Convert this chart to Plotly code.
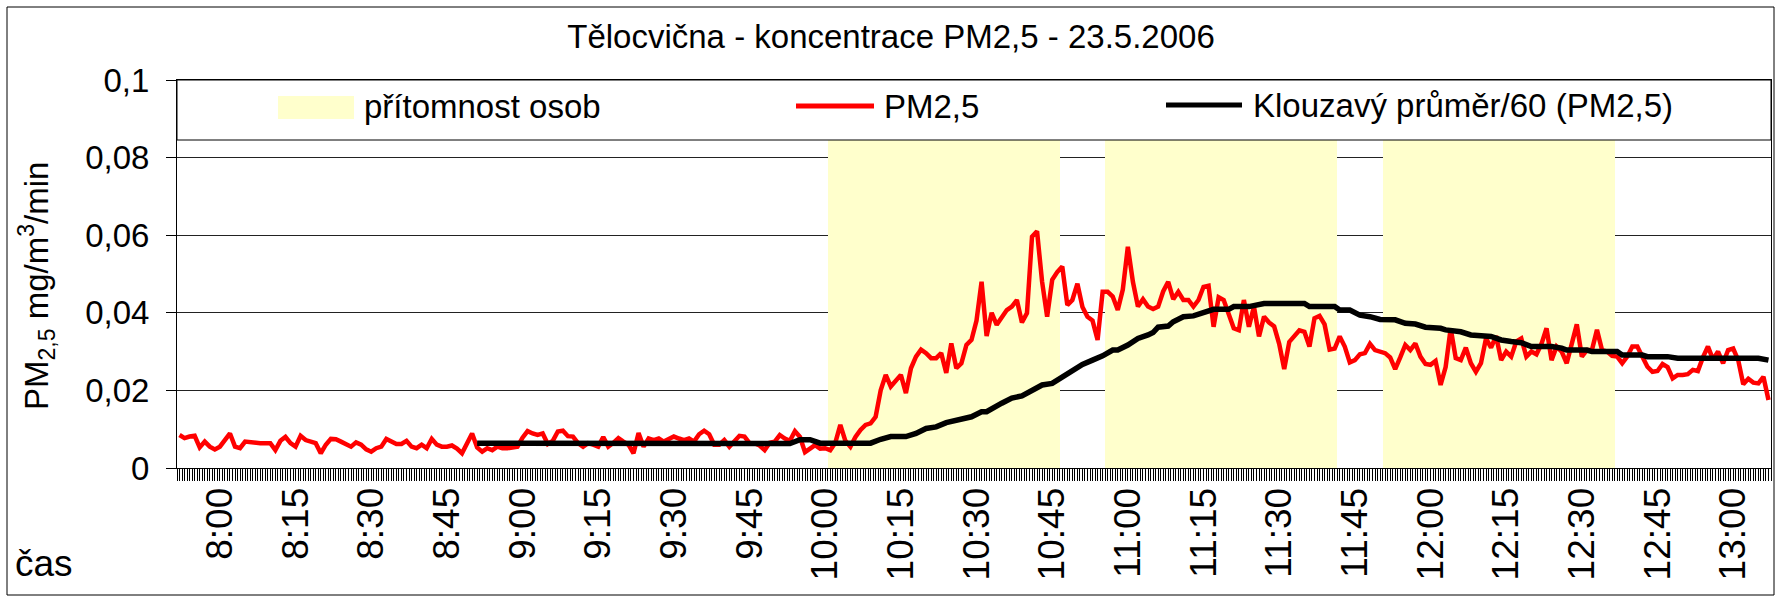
import pandas as pd
import plotly.graph_objects as go

DAY = "2006-05-23"
START = "07:52"

# PM2,5 every minute from 7:52 (µg/m3/min)
pm25_ug = [
    8.5, 7.7, 8.1, 8.3, 5.3, 6.8, 5.5, 4.8, 5.5, 7.2,
    8.9, 5.5, 5.1, 6.8, 6.6, 6.4, 6.4, 6.4, 6.4, 4.6,
    7.0, 8.0, 6.4, 5.5, 8.3, 7.2, 6.8, 6.4, 3.8, 6.0,
    7.5, 7.4, 6.8, 6.2, 5.5, 6.6, 6.0, 4.8, 4.2, 5.1,
    5.5, 7.5, 7.0, 6.2, 6.2, 7.0, 5.5, 5.1, 6.0, 5.1,
    7.5, 6.0, 5.5, 5.5, 5.8, 5.0, 3.8, 6.4, 8.9, 5.3,
    4.2, 5.1, 4.6, 5.5, 5.1, 5.1, 5.3, 5.5, 7.8, 9.5,
    8.9, 8.5, 8.9, 6.2, 7.0, 9.4, 9.6, 8.2, 8.1, 6.4,
    5.5, 6.4, 6.0, 5.5, 8.0, 5.5, 6.5, 7.7, 6.8, 6.0,
    3.8, 9.0, 5.5, 7.6, 7.2, 7.6, 6.8, 7.4, 8.1, 7.6,
    7.2, 7.6, 6.8, 8.7, 9.6, 8.7, 6.0, 6.0, 7.2, 5.5,
    7.0, 8.3, 8.1, 6.4, 6.4, 5.8, 4.6, 6.5, 6.8, 8.5,
    7.6, 7.0, 9.5, 8.0, 4.1, 5.0, 5.9, 5.0, 5.1, 4.6,
    6.5, 11.1, 7.0, 5.5, 8.0, 9.8, 11.1, 11.5, 13.2, 20.0,
    24.0, 21.0, 22.5, 24.0, 19.3, 25.7, 28.7, 30.5, 29.6, 28.3,
    28.3, 29.6, 24.5, 32.1, 25.7, 27.0, 31.7, 33.0, 38.0, 48.0,
    34.0, 40.0, 36.9, 39.0, 40.7, 41.6, 43.3, 37.5, 39.9, 59.6,
    61.0, 48.0, 39.0, 48.5, 50.5, 51.9, 42.0, 43.3, 47.5, 41.5,
    39.0, 38.0, 33.0, 45.4, 45.4, 44.2, 40.7, 46.0, 57.0, 48.0,
    41.6, 43.5, 41.6, 41.0, 41.6, 45.5, 48.0, 43.5, 45.4, 43.3,
    43.3, 41.6, 43.3, 46.7, 47.0, 36.4, 44.0, 43.3, 40.0, 36.0,
    35.5, 43.3, 36.4, 41.6, 33.9, 39.0, 37.5, 36.5, 32.0, 25.5,
    32.5, 33.9, 35.5, 35.1, 31.3, 38.6, 39.2, 37.0, 30.5, 30.8,
    33.9, 31.3, 27.2, 27.8, 29.3, 29.6, 32.0, 30.4, 30.0, 29.6,
    28.5, 25.5, 28.5, 31.7, 30.4, 32.1, 28.7, 26.8, 26.6, 27.6,
    21.4, 26.0, 36.0, 28.3, 27.8, 31.0, 27.0, 24.8, 27.0, 33.4,
    31.0, 34.0, 27.8, 30.0, 28.7, 32.6, 33.4, 28.7, 30.0, 29.3,
    32.0, 36.0, 27.8, 31.3, 30.0, 27.0, 32.0, 37.0, 28.7, 30.4,
    30.4, 35.6, 30.4, 30.0, 28.9, 28.7, 27.0, 28.7, 31.3, 31.3,
    28.7, 26.1, 24.8, 25.0, 26.8, 26.0, 23.1, 24.0, 24.0, 24.2,
    25.3, 25.0, 28.5, 31.3, 28.0, 30.0, 27.0, 30.4, 30.8, 27.8,
    21.6, 23.0, 22.0, 21.8, 23.5, 17.5,
]

# moving average (period 60) as drawn in the chart
ma_times = [
    "08:51", "09:02", "09:12", "09:22", "09:32", "09:42", "09:47", "09:53",
    "09:55", "09:57", "09:59", "10:09", "10:11", "10:13", "10:16", "10:18",
    "10:20", "10:22", "10:24", "10:27", "10:29", "10:31", "10:32", "10:35",
    "10:37", "10:39", "10:41", "10:43", "10:45", "10:47", "10:49", "10:51",
    "10:53", "10:55", "10:57", "10:58", "11:00", "11:02", "11:04", "11:05",
    "11:06", "11:08", "11:09", "11:11", "11:13", "11:15", "11:17", "11:20",
    "11:21", "11:24", "11:25", "11:27", "11:35", "11:36", "11:41", "11:42",
    "11:44", "11:46", "11:48", "11:50", "11:53", "11:55", "11:57", "11:59",
    "12:02", "12:03", "12:06", "12:08", "12:12", "12:14", "12:16", "12:18",
    "12:20", "12:24", "12:26", "12:27", "12:31", "12:32", "12:37", "12:38",
    "12:42", "12:43", "12:47", "12:49", "13:05", "13:07",
]
ma_ug = [
    6.4, 6.4, 6.4, 6.4, 6.4, 6.4, 6.3, 6.3,
    7.3, 7.3, 6.4, 6.4, 7.4, 8.1, 8.1, 8.9,
    10.2, 10.6, 11.7, 12.4, 13.2, 14.5, 14.5, 16.7,
    18.0, 18.6, 20.1, 21.4, 21.8, 23.5, 25.4, 26.7,
    27.8, 28.9, 30.4, 30.4, 31.7, 33.4, 34.3, 34.9,
    36.3, 36.6, 37.7, 39.0, 39.2, 40.0, 40.9, 40.9,
    41.6, 41.6, 41.8, 42.4, 42.4, 41.6, 41.6, 40.7,
    40.7, 39.4, 39.0, 38.3, 38.2, 37.3, 37.1, 36.3,
    36.0, 35.6, 35.1, 34.3, 33.9, 33.0, 32.6, 32.3,
    31.3, 31.3, 30.9, 30.4, 30.4, 30.0, 30.0, 29.1,
    29.1, 28.7, 28.7, 28.3, 28.3, 27.8,
]

# presence of people (first and last minute of each lesson)
presence_start = ["10:01", "10:56", "11:51"]
presence_end = ["10:46", "11:41", "12:36"]

TITLE = "Tělocvična - koncentrace PM2,5 - 23.5.2006"
FONT = "Liberation Sans, Arial, sans-serif"

W, H = 1777, 598
L, R, T, B = 177, 1771, 80, 468


def px(x):
    return (x - L) / (R - L)


def py(y):
    return (B - y) / (B - T)


time = pd.date_range(f"{DAY} {START}", periods=len(pm25_ug), freq="min")
ts = lambda s: pd.Timestamp(f"{DAY} {s}")
presence = [
    0.1 if any(ts(s) <= t <= ts(e) for s, e in zip(presence_start, presence_end)) else None
    for t in time
]

fig = go.Figure()
fig.add_bar(
    x=time, y=presence, width=60000,
    marker=dict(color="#FFFFCC", line_width=0),
    name="přítomnost osob", showlegend=False,
)
fig.add_scatter(
    x=time, y=[v / 1000 for v in pm25_ug], mode="lines",
    line=dict(color="#FF0000", width=4.5), name="PM2,5", showlegend=False,
)
fig.add_scatter(
    x=[ts(t) for t in ma_times], y=[v / 1000 for v in ma_ug], mode="lines",
    line=dict(color="#000000", width=5.5), name="Klouzavý průměr/60 (PM2,5)",
    showlegend=False,
)

shapes = [
    # legend box
    dict(type="rect", xref="paper", yref="paper", x0=0, x1=1, y0=py(140), y1=1,
         fillcolor="white", line=dict(color="black", width=1), layer="above"),
    dict(type="rect", xref="paper", yref="paper", x0=px(278), x1=px(354),
         y0=py(119), y1=py(96), fillcolor="#FFFFCC", line_width=0, layer="above"),
    dict(type="line", xref="paper", yref="paper", x0=px(796), x1=px(874),
         y0=py(106), y1=py(106), line=dict(color="#FF0000", width=5), layer="above"),
    dict(type="line", xref="paper", yref="paper", x0=px(1166), x1=px(1242),
         y0=py(105), y1=py(105), line=dict(color="#000000", width=5), layer="above"),
    # chart border
    dict(type="rect", xref="paper", yref="paper", x0=px(7), x1=px(1774),
         y0=py(595), y1=py(7), line=dict(color="black", width=1), layer="above"),
]

annotations = [
    dict(text="přítomnost osob", x=px(362), y=py(106)),
    dict(text="PM2,5", x=px(882), y=py(106)),
    dict(text="Klouzavý průměr/60 (PM2,5)", x=px(1251), y=py(105)),
    dict(text="čas", x=px(13), y=py(563), font=dict(size=37)),
    dict(text="PM<sub>2,5</sub> mg/m<sup>3</sup>/min", x=px(36), y=py(286),
         textangle=-90, xanchor="center"),
]
for a in annotations:
    a.setdefault("xanchor", "left")
    a.update(xref="paper", yref="paper", yanchor="middle", showarrow=False)
    a.setdefault("font", dict(size=33))

fig.update_layout(
    width=W, height=H,
    margin=dict(l=L, r=W - R, t=T, b=H - B),
    paper_bgcolor="white", plot_bgcolor="white",
    font=dict(family=FONT, color="black", size=33),
    separators=", ",
    bargap=0,
    title=dict(text=TITLE, x=891 / W, xanchor="center", y=1 - 36 / H,
               yanchor="middle", font=dict(size=33)),
    shapes=shapes,
    annotations=annotations,
)
fig.update_xaxes(
    type="date",
    range=[f"{DAY} 07:51:30", f"{DAY} 13:07:30"],
    tick0=f"{DAY} 08:00", dtick=15 * 60 * 1000, tickformat="%-H:%M",
    tickangle=-90, tickfont=dict(size=37),
    ticks="outside", ticklen=12, tickcolor="black", ticklabelstandoff=-8,
    minor=dict(tick0=f"{DAY} 07:51:30", dtick=30000, ticks="outside",
               ticklen=12, tickcolor="black", showgrid=False),
    showline=True, linecolor="black", mirror=True, showgrid=False,
)
fig.update_yaxes(
    range=[0, 0.1], tickvals=[0, 0.02, 0.04, 0.06, 0.08, 0.1],
    ticks="outside", ticklen=10, tickcolor="black", ticklabelstandoff=10,
    tickfont=dict(size=33),
    showline=True, linecolor="black", mirror=True,
    showgrid=True, gridcolor="#222222", gridwidth=1, zeroline=False,
)

fig.write_html("out.html", config={"displayModeBar": False},
               post_script="document.body.style.margin='0';")
